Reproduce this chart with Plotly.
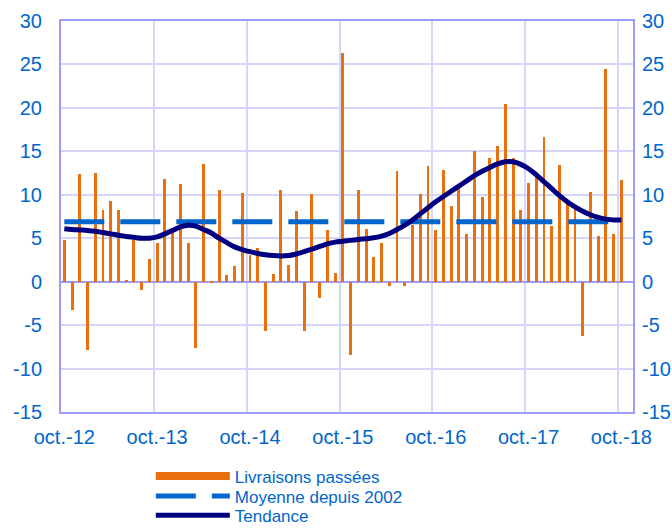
import plotly.graph_objects as go

# Monthly data, oct.-12 .. oct.-18 (73 months)
months = list(range(73))
tick_labels = ["oct.-12", "oct.-13", "oct.-14", "oct.-15", "oct.-16", "oct.-17", "oct.-18"]
tick_months = [0, 12, 24, 36, 48, 60, 72]

livraisons = [
    4.8, -3.3, 12.4, -7.9, 12.5, 8.2, 9.3, 8.3, 0.1, 4.8, -1.0, 2.6,
    4.4, 11.8, 5.6, 11.2, 4.5, -7.6, 13.6, -0.2, 10.5, 0.8, 1.8, 10.2,
    3.1, 3.9, -5.7, 0.9, 10.5, 1.9, 8.1, -5.7, 10.1, -1.9, 6.0, 1.0,
    26.3, -8.4, 10.5, 6.1, 2.8, 4.5, -0.5, 12.7, -0.5, 6.5, 10.1, 13.3,
    6.0, 12.8, 8.7, 10.7, 5.5, 15.0, 9.8, 14.2, 15.6, 20.5, 14.2, 8.2,
    11.3, 12.3, 16.6, 6.4, 13.4, 8.9, 8.7, -6.3, 10.3, 5.2, 24.5, 5.5,
    11.7,
]

moyenne_value = 6.9
moyenne = [moyenne_value] * len(months)

tendance = [
    6.1, 6.0, 5.95, 5.9, 5.8, 5.65, 5.5, 5.35, 5.2, 5.1, 5.0, 5.0,
    5.15, 5.5, 5.9, 6.3, 6.5, 6.4, 6.0, 5.6, 5.0, 4.5, 4.0, 3.7,
    3.45, 3.25, 3.1, 3.0, 2.95, 3.0, 3.2, 3.45, 3.75, 4.05, 4.35, 4.55,
    4.65, 4.75, 4.85, 4.95, 5.05, 5.25, 5.55, 6.0, 6.5, 7.1, 7.8, 8.5,
    9.2, 9.8, 10.4, 11.0, 11.6, 12.2, 12.7, 13.15, 13.55, 13.8, 13.8, 13.5,
    13.0, 12.3, 11.5, 10.7, 9.9, 9.2, 8.6, 8.1, 7.7, 7.4, 7.2, 7.1,
    7.1,
]

y_ticks = list(range(-15, 31, 5))
y_tick_text = [str(v) for v in y_ticks]

BLUE = "#0066CC"
NAVY = "#000080"
ORANGE = "#E8700F"
FRAME = "#9C9CFF"
GRID = "#D6D6FA"
FONT = "Liberation Sans, Arial, sans-serif"

fig = go.Figure()
fig.add_trace(go.Bar(x=months, y=livraisons, name="Livraisons passées", showlegend=False,
                     marker=dict(color=ORANGE, line=dict(width=0)), width=0.38))
# legend entry for the bars (wide orange rectangle as in the reference)
fig.add_trace(go.Scatter(x=[None], y=[None], name="Livraisons passées", mode="lines",
                         line=dict(color=ORANGE, width=8), legend="legend"))
fig.add_trace(go.Scatter(x=months, y=moyenne, name="Moyenne depuis 2002", mode="lines",
                         line=dict(color=BLUE, width=5, dash="40px,16px"), legend="legend2"))
fig.add_trace(go.Scatter(x=months, y=tendance, name="Tendance", mode="lines",
                         line=dict(color=NAVY, width=5, shape="spline"), legend="legend3"))
fig.add_trace(go.Scatter(x=[months[0]], y=[0], yaxis="y2", showlegend=False,
                         mode="markers", marker=dict(opacity=0), hoverinfo="skip"))

leg_common = dict(x=0.157, xanchor="left", yanchor="middle",
                  font=dict(size=17, color=BLUE), itemwidth=74,
                  bgcolor="rgba(0,0,0,0)")

fig.update_layout(
    width=672, height=528,
    margin=dict(l=61, r=39, t=21, b=116, autoexpand=False),
    paper_bgcolor="white", plot_bgcolor="white",
    font=dict(family=FONT, color=BLUE, size=20),
    showlegend=True,
    bargap=0,
    legend=dict(y=-0.165, **leg_common),
    legend2=dict(y=-0.216, **leg_common),
    legend3=dict(y=-0.265, **leg_common),
    xaxis=dict(range=[-0.43, 73.5], tickvals=tick_months, ticktext=tick_labels,
               showgrid=False, ticks="", zeroline=False, automargin=False,
               showline=True, linecolor=FRAME, linewidth=2, mirror=True,
               minor=dict(tick0=-0.43, dtick=12, showgrid=True, gridcolor=GRID, gridwidth=1.5),
               tickfont=dict(size=20, color=BLUE), ticklabelstandoff=6),
    yaxis=dict(range=[-15, 30], tickvals=y_ticks, ticktext=y_tick_text,
               showgrid=True, gridcolor=GRID, gridwidth=1.5, automargin=False,
               zeroline=True, zerolinecolor=FRAME, zerolinewidth=1.5,
               showline=True, linecolor=FRAME, linewidth=2, mirror=True, ticks="",
               tickfont=dict(size=20, color=BLUE), ticklabelstandoff=13),
    yaxis2=dict(range=[-15, 30], tickvals=y_ticks, ticktext=y_tick_text,
                overlaying="y", side="right", automargin=False,
                showgrid=False, zeroline=False, ticks="",
                tickfont=dict(size=20, color=BLUE), ticklabelstandoff=8),
)

fig.write_html("out.html", config={"displayModeBar": False},
               post_script="document.body.style.margin='0';")
